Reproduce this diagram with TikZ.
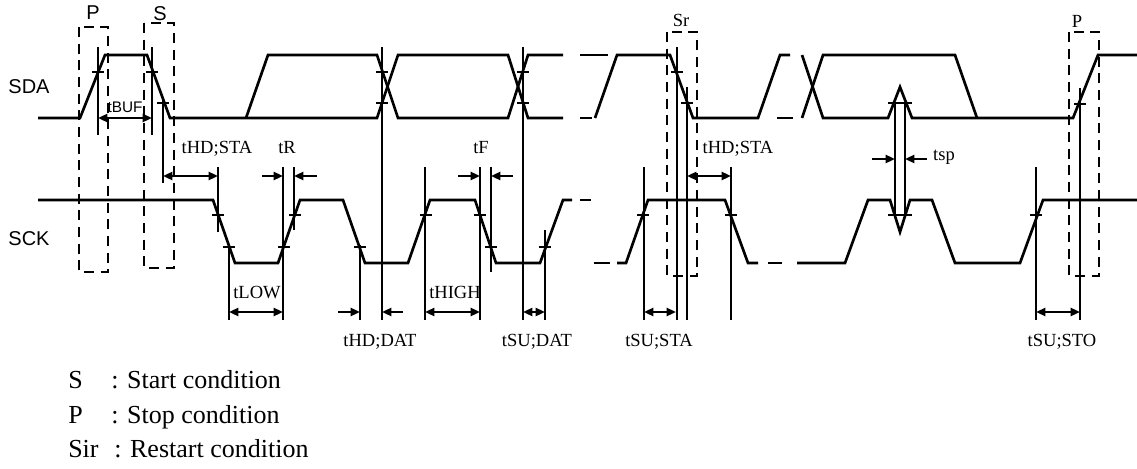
\documentclass[tikz,border=0pt]{standalone}
\usepackage{fontspec}
\setmainfont{Liberation Serif}
\newfontfamily\arialf{Liberation Sans}
\usetikzlibrary{arrows.meta}
\tikzset{
  sig/.style={line width=2pt, line cap=butt, line join=miter},
  mk/.style={line width=1pt},
  tk/.style={line width=1.2pt},
  dbox/.style={line width=1.4pt, dash pattern=on 7.5pt off 5pt},
  ar/.style={line width=1.6pt, -{Triangle[length=7pt,width=6pt]}},
  dar/.style={line width=1.6pt, {Triangle[length=7pt,width=6pt]}-{Triangle[length=7pt,width=6pt]}},
  lbl/.style={inner sep=0pt, anchor=base, font=\fontsize{13.9}{16}\selectfont},
  slbl/.style={inner sep=0pt, anchor=base, font=\arialf\fontsize{15}{17}\selectfont},
  leg/.style={inner sep=0pt, anchor=base west, font=\fontsize{19.5}{22}\selectfont}
}
\begin{document}
\begin{tikzpicture}[x=0.75pt,y=-0.75pt]
\useasboundingbox (0,0) rectangle (1137,468);
% ---------------- SDA ----------------
\draw[sig] (38,118) -- (80,118) -- (105,55) -- (147,55) -- (170,118) -- (377,118) -- (398,55) -- (508,55) -- (528,118) -- (563,118);
\draw[sig] (246,118) -- (268,55) -- (377,55) -- (398,118) -- (508,118) -- (528,55) -- (563,55);
\draw[sig] (580,55) -- (608,55);
\draw[sig] (580,118) -- (592,118);
\draw[sig] (595,118) -- (617,55) -- (670,55) -- (693,118) -- (758,118) -- (780,55) -- (790,55);
\draw[sig] (777,118) -- (793,118);
\draw[sig] (802,118) -- (823,55) -- (955,55) -- (977,118);
\draw[sig] (802,55) -- (823,118) -- (888,118) -- (900,87) -- (912,118) -- (1073,118) -- (1098,55) -- (1137,55);
% ---------------- SCK ----------------
\draw[sig] (38,200) -- (213,200) -- (235,263) -- (278,263) -- (300,200) -- (343,200) -- (365,263) -- (408,263) -- (430,200) -- (475,200) -- (496,263) -- (540,263) -- (563,200) -- (572,200);
\draw[sig] (580,200) -- (591,200);
\draw[sig] (594,263) -- (610,263);
\draw[sig] (617,263) -- (626,263) -- (648,200) -- (725,200) -- (748,263) -- (758,263);
\draw[sig] (768,263) -- (782,263);
\draw[sig] (797,263) -- (845,263) -- (868,200) -- (890,200) -- (900,232) -- (910,200) -- (932,200) -- (955,263) -- (1020,263) -- (1043,200) -- (1137,200);
% ---------------- marker lines ----------------
\foreach \x/\a/\b in {98/47/135, 152/47/135, 163/100/183, 218/167/232, 229/245/320, 283/167/320, 294/167/230,
  382/47/320, 360/245/320, 425/167/320, 480/167/320, 491/167/272, 523/47/320, 545/230/320,
  644/167/320, 677/47/320, 687/87/320, 731/167/320, 895/103/215, 905/103/215, 1036/167/320, 1080/88/320}
  \draw[mk] (\x,\a) -- (\x,\b);
% ---------------- threshold ticks ----------------
\foreach \x/\y in {98/72, 152/72, 163/103, 382/72, 382/103, 523/72, 523/103, 677/72, 687/103, 1080/104,
  218/215, 229/247, 284/247, 295/215, 360/247, 426/215, 480/215, 491/247, 545/247, 643/215, 731/215, 1036/215}
  \draw[tk] (\x-6,\y) -- (\x+6,\y);
\draw[tk] (888,103) -- (912,103);
\draw[tk] (888,215) -- (912,215);
% ---------------- dashed condition boxes ----------------
\draw[dbox] (79,27) rectangle (108,272);
\draw[dbox] (144,23) rectangle (174,268);
\draw[dbox] (667,32) rectangle (697,276);
\draw[dbox] (1069,32) rectangle (1099,276);
% ---------------- timing arrows ----------------
\draw[dar] (98,118) -- (152,118);
\draw[dar] (163,176) -- (218,176);
\draw[ar] (262,176) -- (283,176);
\draw[ar] (317,176) -- (294,176);
\draw[ar] (458,176) -- (480,176);
\draw[ar] (513,176) -- (491,176);
\draw[dar] (687,176) -- (731,176);
\draw[ar] (872,159) -- (895,159);
\draw[ar] (927,159) -- (905,159);
\draw[dar] (229,312) -- (283,312);
\draw[ar] (338,312) -- (360,312);
\draw[ar] (403,312) -- (382,312);
\draw[dar] (425,312) -- (480,312);
\draw[dar] (523,312) -- (545,312);
\draw[dar] (644,312) -- (676,312);
\draw[dar] (1036,312) -- (1080,312);
% ---------------- labels ----------------
\node[slbl] (lP1) at (93,19) {P};
\node[slbl] (lS1) at (160,20) {S};
\node[slbl] (lSDA) at (29,93) {SDA};
\node[slbl] (lSCK) at (29,245) {SCK};
\node[slbl, font=\arialf\fontsize{11.5}{13}\selectfont] (lBUF) at (125,112) {tBUF};
\node[lbl] (lHDSTA1) at (217,153) {tHD;STA};
\node[lbl] (lR) at (287,153) {tR};
\node[lbl] (lF) at (481,153) {tF};
\node[lbl] (lHDSTA2) at (738,153) {tHD;STA};
\node[lbl] (lsp) at (944,160) {tsp};
\node[lbl] (lLOW) at (257,298) {tLOW};
\node[lbl] (lHIGH) at (455,298) {tHIGH};
\node[lbl] (lHDDAT) at (380,346) {tHD;DAT};
\node[lbl] (lSUDAT) at (537,346) {tSU;DAT};
\node[lbl] (lSUSTA) at (659,346) {tSU;STA};
\node[lbl] (lSUSTO) at (1062,346) {tSU;STO};
\node[lbl] (lSr) at (681,26) {Sr};
\node[lbl] (lP2) at (1077,27) {P};
% ---------------- legend ----------------
\node[leg] (k1) at (68,388) {S};
\node[leg] (v1) at (111,388) {: Start condition};
\node[leg] (k2) at (68,423) {P};
\node[leg] (v2) at (111,423) {: Stop condition};
\node[leg] (k3) at (68,457) {Sir};
\node[leg] (v3) at (114,457) {: Restart condition};
\end{tikzpicture}
\end{document}
